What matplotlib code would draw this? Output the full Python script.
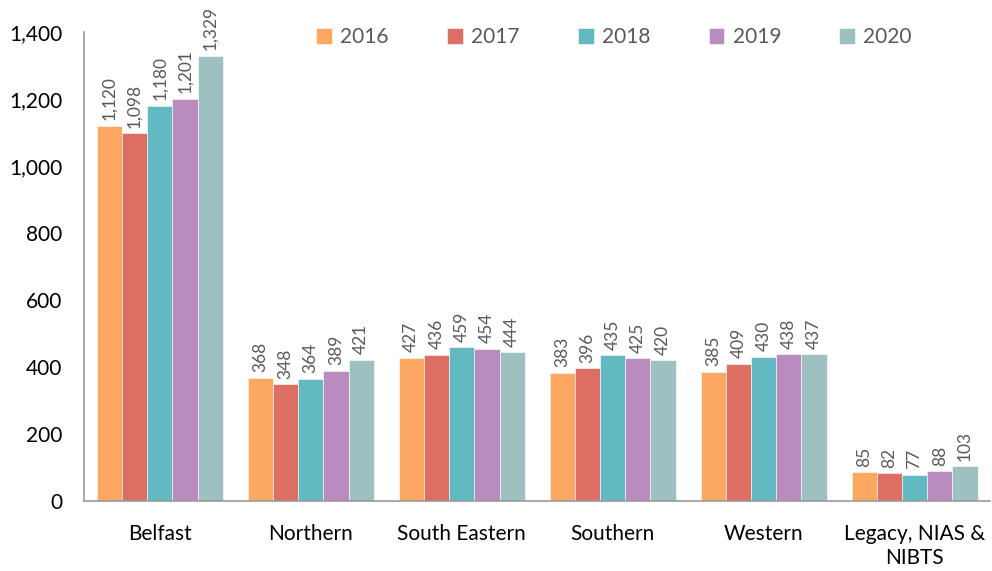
import numpy as np
import matplotlib.pyplot as plt

# values
regions = ["Belfast", "Northern", "South Eastern", "Southern", "Western",
           "Legacy, NIAS &\nNIBTS"]
years = ["2016", "2017", "2018", "2019", "2020"]
v2016 = [1120, 368, 427, 383, 385, 85]
v2017 = [1098, 348, 436, 396, 409, 82]
v2018 = [1180, 364, 459, 435, 430, 77]
v2019 = [1201, 389, 454, 425, 438, 88]
v2020 = [1329, 421, 444, 420, 437, 103]
colors = ["#FCA862", "#DD6E63", "#63B9C1", "#B98BBE", "#9DC1C0"]

plt.rcParams['font.family'] = ['Lato', 'DejaVu Sans']

fig = plt.figure(figsize=(9.92, 5.71), dpi=100)
ax = fig.add_axes([0.085, 0.123, 0.913, 0.821])

series = [v2016, v2017, v2018, v2019, v2020]
x = np.arange(len(regions))
w = 0.167
for i, vals in enumerate(series):
    pos = x + (i - 2) * w
    ax.bar(pos, vals, width=w, color=colors[i], edgecolor="white",
           linewidth=0.4, label=years[i])
    for p, v in zip(pos, vals):
        ax.annotate(f"{v:,}", (p, v), xytext=(0, 4), textcoords="offset points",
                    rotation=90, ha="center", va="bottom", fontsize=12.5,
                    color="#595959")

ax.set_xlim(-0.5, len(regions) - 0.5)
ax.set_ylim(0, 1400)
ax.set_yticks(range(0, 1401, 200))
ax.yaxis.set_major_formatter(plt.FuncFormatter(lambda v, _: f"{int(v):,}"))
ax.set_xticks(x)
ax.set_xticklabels(regions, linespacing=1.25)
ax.tick_params(axis="y", length=0, pad=16, labelsize=15)
ax.tick_params(axis="x", length=0, pad=17, labelsize=15)
for s in ["top", "right"]:
    ax.spines[s].set_visible(False)
for s in ["left", "bottom"]:
    ax.spines[s].set_color("#999999")
    ax.spines[s].set_linewidth(1.2)

leg = ax.legend(loc="upper center", bbox_to_anchor=(0.585, 1.05), ncol=5,
                frameon=False, fontsize=15, handlelength=0.75, handleheight=0.75,
                columnspacing=2.8, handletextpad=0.4)
for t in leg.get_texts():
    t.set_color("#595959")

fig.savefig("out.png", dpi=100)
